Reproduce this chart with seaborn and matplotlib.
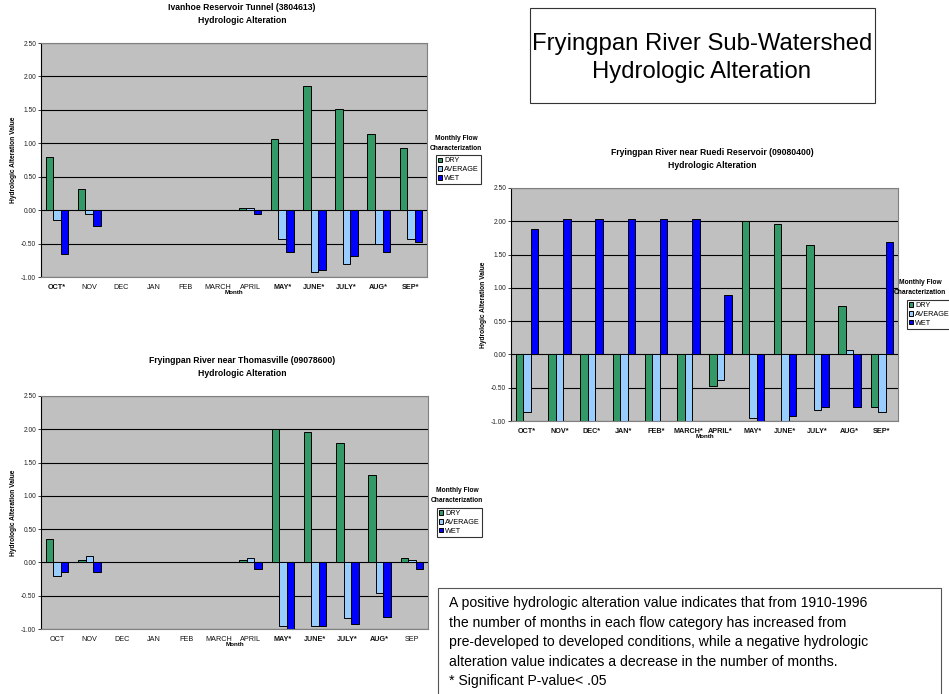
import numpy as np
import pandas as pd
import matplotlib
matplotlib.use("Agg")
import matplotlib.pyplot as plt
from matplotlib.patches import Rectangle
import seaborn as sns

# --- data ---
months = ["OCT", "NOV", "DEC", "JAN", "FEB", "MARCH", "APRIL",
          "MAY", "JUNE", "JULY", "AUG", "SEP"]
flow_types = ["DRY", "AVERAGE", "WET"]
flow_colors = ["#339966", "#99ccff", "#0000ff"]

# Ivanhoe Reservoir Tunnel (3804613)
ivanhoe_dry = [0.79, 0.31, 0, 0, 0, 0, 0.03, 1.07, 1.86, 1.52, 1.14, 0.93]
ivanhoe_avg = [-0.14, -0.06, 0, 0, 0, 0, 0.03, -0.43, -0.93, -0.80, -0.50, -0.43]
ivanhoe_wet = [-0.66, -0.24, 0, 0, 0, 0, -0.06, -0.62, -0.89, -0.69, -0.62, -0.48]
ivanhoe_sig = [True, False, False, False, False, False, False,
               True, True, True, True, True]

# Fryingpan River near Thomasville (09078600)
thomas_dry = [0.35, 0.03, 0, 0, 0, 0, 0.03, 2.00, 1.96, 1.79, 1.31, 0.06]
thomas_avg = [-0.20, 0.10, 0, 0, 0, 0, 0.06, -0.96, -0.96, -0.83, -0.46, 0.03]
thomas_wet = [-0.14, -0.14, 0, 0, 0, 0, -0.10, -1.00, -0.96, -0.93, -0.82, -0.10]
thomas_sig = [False, False, False, False, False, False, False,
              True, True, True, True, False]

# Fryingpan River near Ruedi Reservoir (09080400)
ruedi_dry = [-1.00, -1.00, -1.00, -1.00, -1.00, -1.00, -0.48, 2.00, 1.96, 1.65, 0.72, -0.79]
ruedi_avg = [-0.86, -1.00, -1.00, -1.00, -1.00, -1.00, -0.39, -0.96, -1.00, -0.83, 0.06, -0.86]
ruedi_wet = [1.89, 2.03, 2.03, 2.03, 2.03, 2.03, 0.89, -1.00, -0.93, -0.79, -0.79, 1.69]
ruedi_sig = [True] * 12

plt.rcParams["font.family"] = ["Liberation Sans", "DejaVu Sans"]
plt.rcParams["axes.unicode_minus"] = False

W, H = 949, 694
fig = plt.figure(figsize=(W / 100, H / 100), dpi=100)


def fx(px):
    return px / W


def fy(py):
    return 1 - py / H


def draw_chart(x0, y0, x1, y1, title, dry, avg, wet, sig, leg_dx=29):
    ax = fig.add_axes([fx(x0), fy(y1), fx(x1 - x0), (y1 - y0) / H])
    df = pd.DataFrame({
        "Month": months * 3,
        "Flow": np.repeat(flow_types, len(months)),
        "Value": list(dry) + list(avg) + list(wet),
    })
    sns.barplot(data=df, x="Month", y="Value", hue="Flow", order=months,
                hue_order=flow_types, palette=flow_colors, saturation=1,
                width=0.7, edgecolor="black", linewidth=0.7, ax=ax,
                legend=True, errorbar=None)
    ax.set_facecolor("#c0c0c0")
    ax.set_ylim(-1.0, 2.5)
    ax.set_xlim(-0.5, 11.5)
    ticks = np.arange(-1.0, 2.51, 0.5)
    ax.set_yticks(ticks)
    ax.set_yticklabels([f"{v:.2f}" for v in ticks])
    ax.set_axisbelow(True)
    ax.yaxis.grid(True, color="black", linewidth=0.8)
    ax.tick_params(axis="y", labelsize=4.8, length=2, width=0.6, pad=1.5,
                   colors="#222222")
    ax.tick_params(axis="x", labelsize=5.2, length=0, pad=5)
    labels = [m + "*" if s else m for m, s in zip(months, sig)]
    ax.set_xticks(range(len(months)))
    ax.set_xticklabels(labels)
    for lab, s in zip(ax.get_xticklabels(), sig):
        lab.set_fontweight("bold" if s else "normal")
        lab.set_color("#111111")
    for side in ["top", "right", "bottom"]:
        ax.spines[side].set_color("#808080")
        ax.spines[side].set_linewidth(0.8)
    ax.spines["left"].set_color("black")
    ax.spines["left"].set_linewidth(0.8)
    ax.set_xlabel("Month", fontsize=4.5, fontweight="bold", labelpad=-1)
    ax.set_ylabel("Hydrologic Alteration Value", fontsize=4.8,
                  fontweight="bold", labelpad=3)

    handles, labs = ax.get_legend_handles_labels()
    ax.get_legend().remove()
    leg = ax.legend(handles, labs, loc="upper left",
                    bbox_to_anchor=(1.023, 0.52), fontsize=5.2,
                    frameon=True, fancybox=False, edgecolor="black",
                    handlelength=0.6, handleheight=0.6, handletextpad=0.25,
                    labelspacing=0.25, borderpad=0.3, borderaxespad=0)
    leg.get_frame().set_linewidth(0.8)
    top = y1 - (y1 - y0) * 0.52
    fig.text(fx(x1 + leg_dx), fy(top - 12), "Monthly Flow\nCharacterization",
             ha="center", va="center", fontsize=4.8, fontweight="bold",
             linespacing=1.6)
    fig.text(fx((x0 + x1) / 2 + 8), fy(y0 - 29), title, ha="center",
             va="center", fontsize=6.2, fontweight="bold", linespacing=1.6)
    return ax


draw_chart(41, 43, 427, 277, "Ivanhoe Reservoir Tunnel (3804613)\nHydrologic Alteration",
           ivanhoe_dry, ivanhoe_avg, ivanhoe_wet, ivanhoe_sig)
draw_chart(41, 396, 428, 629, "Fryingpan River near Thomasville (09078600)\nHydrologic Alteration",
           thomas_dry, thomas_avg, thomas_wet, thomas_sig)
draw_chart(511, 188, 898, 421, "Fryingpan River near Ruedi Reservoir (09080400)\nHydrologic Alteration",
           ruedi_dry, ruedi_avg, ruedi_wet, ruedi_sig, leg_dx=22)

# title box
fig.add_artist(Rectangle((fx(530), fy(103)), fx(875 - 530), (103 - 8) / H,
                         transform=fig.transFigure, facecolor="white",
                         edgecolor="#333333", linewidth=0.8))
fig.text(fx(702), fy(58), "Fryingpan River Sub-Watershed\nHydrologic Alteration",
         ha="center", va="center", fontsize=17.2, linespacing=1.3)

# note box
fig.add_artist(Rectangle((fx(438), fy(700)), fx(941 - 438), (700 - 588) / H,
                         transform=fig.transFigure, facecolor="white",
                         edgecolor="#555555", linewidth=0.8))
note = ("A positive hydrologic alteration value indicates that from 1910-1996\n"
        "the number of months in each flow category has increased from\n"
        "pre-developed to developed conditions, while a negative hydrologic\n"
        "alteration value indicates a decrease in the number of months.\n"
        "* Significant P-value< .05")
fig.text(fx(449), fy(596), note, ha="left", va="top", fontsize=10.1,
         linespacing=1.5)

fig.savefig("out.png", dpi=100)
